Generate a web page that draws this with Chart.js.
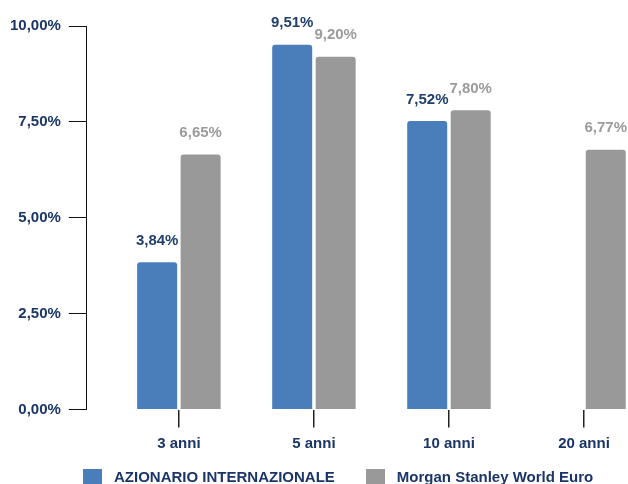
<!DOCTYPE html>
<html>
<head>
<meta charset="utf-8">
<script src="https://cdn.jsdelivr.net/npm/chart.js@4"></script>
<style>
  html, body { margin: 0; padding: 0; background: #fff; overflow: hidden; }
  #wrap { position: relative; width: 628px; height: 484px; overflow: hidden; }
  #legend {
    position: absolute; left: 83px; top: 467px;
    display: flex; align-items: flex-start;
    font: bold 15px "Liberation Sans", Arial, sans-serif; color: #1b3568;
  }
  .item { display: flex; align-items: flex-start; margin-right: 31px; }
  .box { width: 19px; height: 19px; margin-top: 2px; margin-right: 12px; }
  .item span { line-height: 19px; white-space: nowrap; }
</style>
</head>
<body>
<div id="wrap">
  <canvas id="chart"></canvas>
  <div id="legend"></div>
</div>
<script>
// Chart data
const categories = ["3 anni", "5 anni", "10 anni", "20 anni"]
const fundValues = [3.84, 9.51, 7.52, null]
const indexValues = [6.65, 9.2, 7.8, 6.77]
const yTicks = [0, 2.5, 5, 7.5, 10]

const navy = "#1b3568"
const fontFamily = '"Liberation Sans", Arial, sans-serif'

// Italian style percentage, e.g. 7,50%
function formatPercent(value) {
  return value.toFixed(2).replace(".", ",") + "%"
}

// Value labels above the bars
const valueLabels = {
  id: "valueLabels",
  afterDatasetsDraw(chart) {
    const ctx = chart.ctx
    chart.data.datasets.forEach((dataset, i) => {
      const meta = chart.getDatasetMeta(i)
      meta.data.forEach((bar, j) => {
        const value = dataset.data[j].y
        if (value === null) return
        ctx.save()
        ctx.font = "bold 15px " + fontFamily
        ctx.fillStyle = dataset.labelColor
        ctx.textAlign = "center"
        ctx.textBaseline = "alphabetic"
        ctx.fillText(formatPercent(value), bar.x, bar.y - 17.5)
        ctx.restore()
      })
    })
  },
}

const chart = new Chart(document.getElementById("chart"), {
  type: "bar",
  data: {
    datasets: [
      {
        label: "AZIONARIO INTERNAZIONALE",
        data: fundValues.map((v, i) => ({ x: i, y: v })),
        backgroundColor: "#4a7ebb",
        labelColor: "#203f6e",
        borderRadius: 3,
      },
      {
        label: "Morgan Stanley World Euro",
        data: indexValues.map((v, i) => ({ x: i, y: v })),
        backgroundColor: "#999999",
        labelColor: "#9b9b9b",
        borderRadius: 3,
      },
    ],
  },
  options: {
    responsive: true,
    maintainAspectRatio: false,
    animation: false,
    devicePixelRatio: 1,
    categoryPercentage: 0.644,
    barPercentage: 0.92,
    layout: {
      padding: { top: 26, left: 2, right: 0, bottom: 24.5 },
    },
    plugins: {
      legend: { display: false },
      tooltip: { enabled: false },
    },
    scales: {
      x: {
        type: "linear",
        min: -0.6815,
        max: 3.326,
        offset: false,
        afterBuildTicks: (axis) => {
          axis.ticks = categories.map((c, i) => ({ value: i }))
        },
        ticks: {
          autoSkip: false,
          maxRotation: 0,
          padding: 7,
          color: navy,
          font: { family: fontFamily, size: 15, weight: "bold" },
          callback: (value) => categories[value],
        },
        grid: {
          offset: false,
          drawOnChartArea: false,
          tickLength: 18,
          color: "#222",
          lineWidth: 1.5,
        },
        border: { display: false },
      },
      y: {
        min: 0,
        max: 10,
        afterBuildTicks: (axis) => {
          axis.ticks = yTicks.map((v) => ({ value: v }))
        },
        ticks: {
          padding: 8,
          color: navy,
          font: { family: fontFamily, size: 15, weight: "bold" },
          callback: (value) => formatPercent(value),
        },
        grid: {
          drawOnChartArea: false,
          tickLength: 18,
          color: "#111",
        },
        border: { display: true, color: "#111", width: 1 },
      },
    },
  },
  plugins: [valueLabels],
})

// Legend built from the chart datasets
document.getElementById("legend").innerHTML = chart.data.datasets
  .map(
    (ds) =>
      `<div class="item"><div class="box" style="background:${ds.backgroundColor}"></div><span>${ds.label}</span></div>`
  )
  .join("")
</script>
</body>
</html>
